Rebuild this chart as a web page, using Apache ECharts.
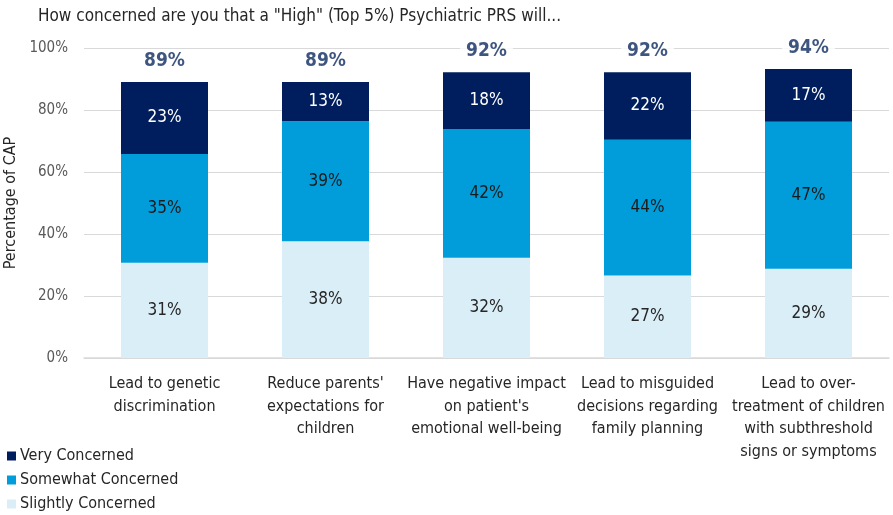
<!DOCTYPE html>
<html><head><meta charset="utf-8">
<script src="https://cdn.jsdelivr.net/npm/echarts@6/dist/echarts.min.js"></script>
<style>html,body{margin:0;padding:0;background:#fff}#c{width:893px;height:515px}</style>
</head><body><div id="c"></div>
<script>
const categories = [
  "Lead to genetic\ndiscrimination",
  "Reduce parents'\nexpectations for\nchildren",
  "Have negative impact\non patient's\nemotional well-being",
  "Lead to misguided\ndecisions regarding\nfamily planning",
  "Lead to over-\ntreatment of children\nwith subthreshold\nsigns or symptoms"
];
const slightly = [30.7, 37.7, 32.3, 26.6, 28.8];
const somewhat = [35.1, 38.7, 41.6, 43.8, 47.4];
const very = [23.2, 12.6, 18.3, 21.8, 17.0];
const totalLabels = [89, 89, 92, 92, 94];
const yTicks = [0, 20, 40, 60, 80, 100];
const legendNames = ['Very Concerned', 'Somewhat Concerned', 'Slightly Concerned'];

const FONT = "'Liberation Sans Narrow', 'DejaVu Sans Condensed', 'Noto Sans', sans-serif";
const sums = slightly.map((v, i) => v + somewhat[i] + very[i]);
const chart = echarts.init(document.getElementById('c'), null, {renderer: 'canvas'});
const segLabel = (color) => ({
  show: true, position: 'inside', color: color, fontSize: 17, fontFamily: FONT,
  formatter: p => Math.round(p.value) + '%'
});
const legendTops = [443, 467, 491];
chart.setOption({
  animation: false,
  textStyle: {fontFamily: FONT},
  title: {
    text: 'How concerned are you that a "High" (Top 5%) Psychiatric PRS will...',
    left: 33, top: 3,
    textStyle: {fontSize: 17, fontWeight: 'normal', color: '#262626', fontFamily: FONT}
  },
  legend: legendNames.map((n, i) => ({
    orient: 'vertical', left: 2, top: legendTops[i],
    itemWidth: 9, itemHeight: 9, itemGap: 0,
    data: [n], icon: 'rect',
    textStyle: {fontSize: 16, color: '#262626', fontFamily: FONT, lineHeight: 16, padding: [0, 0, 0, -1]}
  })),
  grid: {left: 84, right: 4, top: 48, bottom: 157, outerBoundsMode: 'none', containLabel: false},
  xAxis: {
    type: 'category', data: categories,
    axisLine: {lineStyle: {color: '#D9D9D9', width: 1.5}},
    axisTick: {show: false},
    axisLabel: {interval: 0, fontSize: 16, color: '#262626', lineHeight: 22.5, margin: 15, fontFamily: FONT}
  },
  yAxis: {
    type: 'value', min: yTicks[0], max: yTicks[yTicks.length - 1], interval: 20,
    name: 'Percentage of CAP', nameLocation: 'middle', nameRotate: 90, nameGap: 57,
    nameTextStyle: {fontSize: 16, color: '#262626', fontFamily: FONT},
    axisLabel: {formatter: '{value}%', fontSize: 15, color: '#595959', margin: 16, fontFamily: FONT},
    splitLine: {lineStyle: {color: '#D9D9D9', width: 1.2}},
    axisLine: {show: false}, axisTick: {show: false}
  },
  series: [
    {name: 'Slightly Concerned', type: 'bar', stack: 's', data: slightly, barWidth: 87,
     itemStyle: {color: '#DAEEF8'}, label: segLabel('#262626')},
    {name: 'Somewhat Concerned', type: 'bar', stack: 's', data: somewhat, barWidth: 87,
     itemStyle: {color: '#009DDA'}, label: segLabel('#1a1a1a')},
    {name: 'Very Concerned', type: 'bar', stack: 's', data: very, barWidth: 87,
     itemStyle: {color: '#001E5E'}, label: segLabel('#ffffff')},
    {name: 'total', type: 'scatter', data: sums, symbolSize: 0, silent: true,
     label: {show: true, position: 'top', distance: 10, fontSize: 19, fontWeight: 'bold',
       color: '#0E2A60', backgroundColor: '#ffffff', padding: [2, 6], fontFamily: FONT,
       formatter: p => totalLabels[p.dataIndex] + '%'}}
  ]
});
</script></body></html>
